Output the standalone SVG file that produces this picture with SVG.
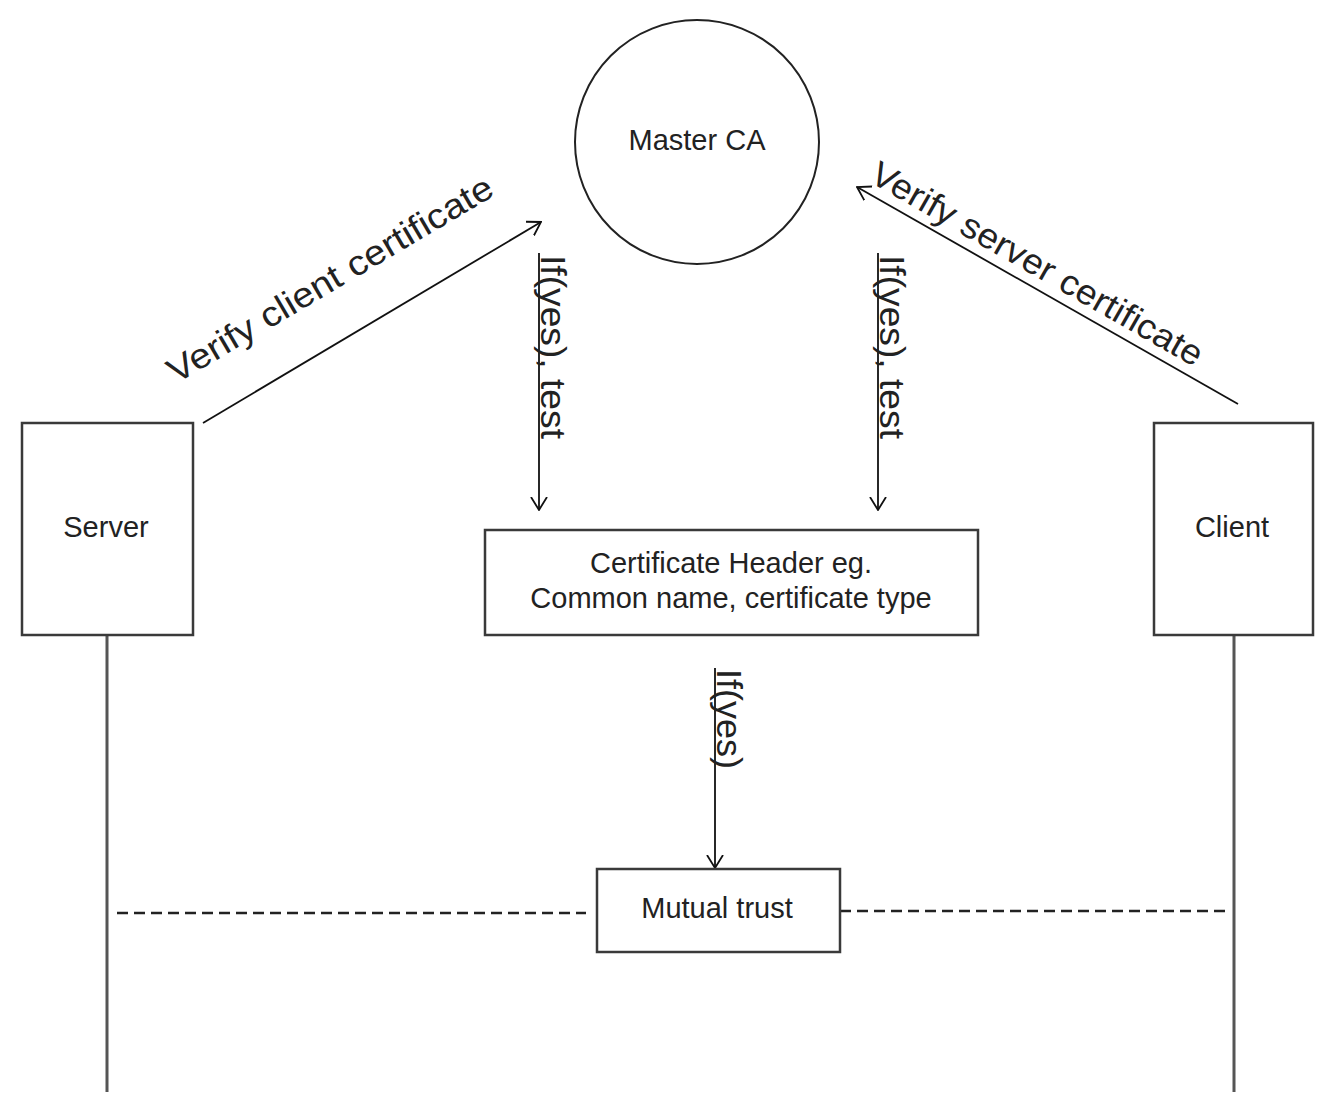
<svg xmlns="http://www.w3.org/2000/svg" width="1342" height="1108" viewBox="0 0 1342 1108">
<defs>
<style>
.box{fill:#fff;stroke:#3a3a3a;stroke-width:2.5}
.lbl{font-family:"Liberation Sans",Arial,sans-serif;font-size:29px;fill:#222;text-anchor:middle}
.rot{font-family:"Liberation Sans",Arial,sans-serif;font-size:35px;fill:#222}
.con{stroke:#111;stroke-width:1.8;fill:none}
.life{stroke:#555;stroke-width:3;fill:none}
.dash{stroke:#222;stroke-width:2.5;stroke-dasharray:11 6;fill:none}
</style>
<marker id="arr" viewBox="0 0 14 18" refX="13" refY="9" markerWidth="14" markerHeight="18" orient="auto" markerUnits="userSpaceOnUse">
<path d="M0,1 L13,9 L0,17" fill="none" stroke="#111" stroke-width="1.8"/>
</marker>
</defs>
<rect width="1342" height="1108" fill="#fff"/>
<g id="connectors">
<line class="life" x1="107" y1="636" x2="107" y2="1092"/>
<line class="life" x1="1234" y1="636" x2="1234" y2="1092"/>
<line class="con" x1="203" y1="423" x2="541" y2="222" marker-end="url(#arr)"/>
<line class="con" x1="1238" y1="404" x2="857" y2="187" marker-end="url(#arr)"/>
<line class="con" x1="539" y1="253" x2="539" y2="510" marker-end="url(#arr)"/>
<line class="con" x1="878" y1="253" x2="878" y2="510" marker-end="url(#arr)"/>
<line class="con" x1="715" y1="668" x2="715" y2="868" marker-end="url(#arr)"/>
<line class="dash" x1="117" y1="913" x2="586" y2="913"/>
<line class="dash" x1="840" y1="911" x2="1228" y2="911"/>
<text class="rot" x="176" y="384" transform="rotate(-30.6 176 384)" textLength="372" lengthAdjust="spacingAndGlyphs">Verify client certificate</text>
<text class="rot" x="868" y="181" transform="rotate(29.7 868 181)" textLength="376" lengthAdjust="spacingAndGlyphs">Verify server certificate</text>
<text class="rot" x="541" y="255" transform="rotate(90 541 255)" textLength="184" lengthAdjust="spacingAndGlyphs">If(yes), test</text>
<text class="rot" x="880" y="255" transform="rotate(90 880 255)" textLength="184" lengthAdjust="spacingAndGlyphs">If(yes), test</text>
<text class="rot" x="717" y="669" transform="rotate(90 717 669)" textLength="100" lengthAdjust="spacingAndGlyphs">If(yes)</text>
</g>
<g id="master-ca">
<circle cx="697" cy="142" r="122" fill="#fff" stroke="#222" stroke-width="2"/>
<text class="lbl" x="697" y="150">Master CA</text>
</g>
<g id="server">
<rect class="box" x="22" y="423" width="171" height="212"/>
<text class="lbl" x="106" y="537">Server</text>
</g>
<g id="client">
<rect class="box" x="1154" y="423" width="159" height="212"/>
<text class="lbl" x="1232" y="537">Client</text>
</g>
<g id="certificate-header">
<rect class="box" x="485" y="530" width="493" height="105"/>
<text class="lbl" x="731" y="573">Certificate Header eg.</text>
<text class="lbl" x="731" y="608">Common name, certificate type</text>
</g>
<g id="mutual-trust">
<rect class="box" x="597" y="869" width="243" height="83"/>
<text class="lbl" x="717" y="918">Mutual trust</text>
</g>
</svg>
